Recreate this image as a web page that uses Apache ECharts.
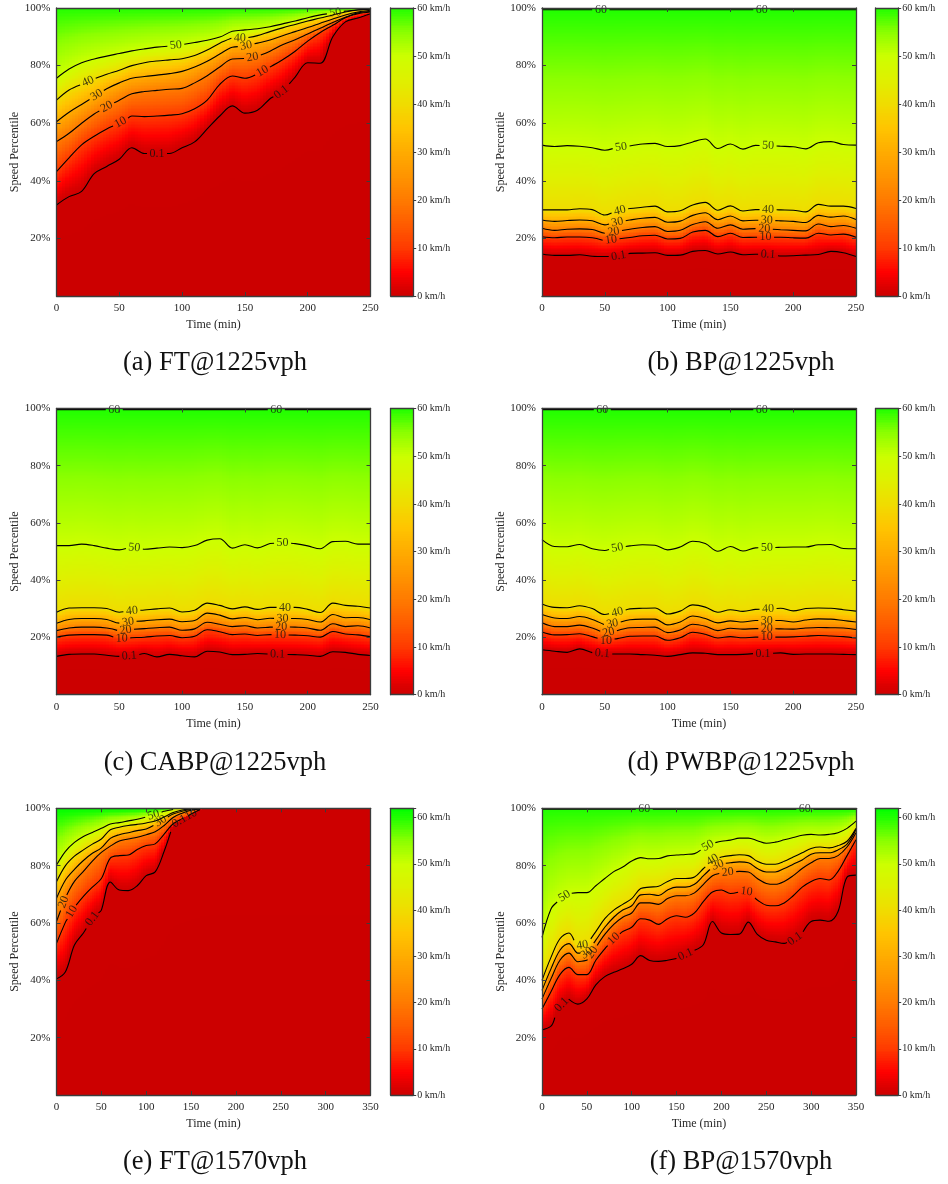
<!DOCTYPE html>
<html>
<head>
<meta charset="utf-8">
<script src="https://cdn.jsdelivr.net/npm/echarts@6/dist/echarts.min.js"></script>
<style>
  html, body { margin: 0; padding: 0; background: #ffffff; }
  #chart { width: 948px; height: 1184px; }
</style>
</head>
<body>
<div id="chart"></div>
<script>
// Speed-percentile contour maps: speed (km/h) over time and speed percentile.
// Each contour array gives the percentile at which the speed level is reached, sampled every 10 min.

const LEVELS = [0.1, 10, 20, 30, 40, 50, 60];
const LEVEL_TEXT = ['0.1', '10', '20', '30', '40', '50', '60'];

const time250 = [0,10,20,30,40,50,60,70,80,90,100,110,120,130,140,150,160,170,180,190,200,210,220,230,240,250];
const time350 = [0,10,20,30,40,50,60,70,80,90,100,110,120,130,140,150,160,170,180,190,200,210,220,230,240,250,260,270,280,290,300,310,320,330,340,350];

const yTicks = [0, 20, 40, 60, 80, 100];
const barTicks = [0, 10, 20, 30, 40, 50, 60];

// (a) FT@1225vph
const ft1225_c01 = [31.6,34.5,36.3,42.5,45,47.5,51.5,49.5,49.5,49.5,51.5,53.5,58,62.5,66,63.5,64.5,68.5,71,76,81,80.8,90,95.2,96.5,98];
const ft1225_c10 = [43.2,48,52.5,55.5,58,60,62.5,62.3,62.5,62.8,63.3,65,68,73.5,76.4,75.6,77,79.5,82,85,88.5,91.5,94,96.6,98,98.6];
const ft1225_c20 = [53.6,56.5,60,63.2,65.7,68,70.2,71,71.4,71.8,72.1,74,76.5,79.5,82.3,82.5,83.2,85,87.2,89,91,93,95,96.8,98.3,98.8];
const ft1225_c30 = [60.5,63.8,66.5,69.2,72,74,75.6,76.2,76.7,77.2,78,79.5,81.5,84,86.4,86.8,87.8,88.9,90.4,91.8,93.2,94.7,96.2,97.6,98.6,99.2];
const ft1225_c40 = [68,71.5,73.5,75.4,77,78.4,80,81,81.6,82,82.4,83.5,85.4,87.8,89.6,89.5,90.4,91.8,93.1,94.3,95.5,96.5,97.6,98.6,99.3,99.6];
const ft1225_c50 = [75.6,78.8,81,82.3,83.3,84.2,85.1,85.8,86.4,86.8,87.3,88,88.8,89.9,91.9,92.4,92.8,93.5,94.5,95.5,96.6,97.6,98.3,98.9,99.4,99.7];

// (b) BP@1225vph
const bp1225_c01 = [14.6,14.1,14.1,14.3,13.8,13.7,13.8,14.8,14.9,15,14.1,14.2,15.5,15.8,14.6,15.3,14.3,14.5,14.4,13.9,14,14.2,14.4,15.5,15,13.7];
const bp1225_c10 = [20.6,20.2,20.5,20.5,20.2,19.2,19.8,20.3,20.9,21.1,19.8,20,22.2,22.8,20.6,21.8,20.3,20.4,20.4,20.4,20.2,20.1,21.8,21.2,21.5,20.4];
const bp1225_c20 = [23.5,22.8,23.2,23.3,23.1,21.8,22.5,23.2,23.8,24.1,22.4,22.8,24.8,25.8,23.5,24.7,23.2,23.4,23.3,23,22.8,22.6,25,24.1,24.5,23.5];
const bp1225_c30 = [26.4,25.9,26.2,26.4,26.1,24.7,25.6,26.4,27,27.3,25.6,26,28,28.9,26.5,27.8,26.1,26.3,26.3,26.1,25.9,25.5,28,27.4,27.8,26.6];
const bp1225_c40 = [29.9,29.9,29.9,30.3,30,28.1,29.5,30.4,30.8,31.2,29.2,29.6,31.6,32.5,29.8,31.3,29.5,30,30,29.9,29.8,29.2,31.8,31.2,31.2,30.4];
const bp1225_c50 = [52.4,51.9,52.2,52,51.5,50.6,51.5,52.1,52.8,53,51.9,52.2,53.5,54.5,51.2,52.8,51,52.3,52.2,52,51.8,51.1,53.2,53.6,52.6,52.4];
const bp1225_c60 = [99.4,99.4,99.4,99.4,99.4,99.4,99.4,99.4,99.4,99.4,99.4,99.4,99.4,99.4,99.4,99.4,99.4,99.4,99.4,99.4,99.4,99.4,99.4,99.4,99.4,99.4];

// (c) CABP@1225vph
const cabp1225_c01 = [13.4,14.1,14.2,14.2,13.8,13.4,13.6,14.4,13.2,14.1,13.6,13.2,15.2,14.9,14,14.1,14.4,14.2,14.1,14,13.8,13.4,15,14.8,14.1,13.7];
const cabp1225_c10 = [20.1,20.8,21,21,20.8,19.6,19.9,20.1,20.5,20.7,19.9,20.4,22.7,22,21,21.2,20.7,21,20.9,20.8,20.6,20.1,22.1,21.2,20.9,20.3];
const cabp1225_c20 = [22.4,23.3,23.6,23.6,23.3,22.3,22.8,23.1,23.4,23.6,22.5,23,25.3,24.6,23.8,24.1,23.3,23.6,23.7,23.6,23.3,22.5,24.8,23.8,24.1,23.3];
const cabp1225_c30 = [25,26.3,26.6,26.6,26.3,25,25.6,25.8,26.2,26.4,25.5,25.9,28.5,27.8,26.5,27,26.2,26.7,26.6,26.6,26.3,25.4,28,26.9,27,26.2];
const cabp1225_c40 = [28.8,30.3,30.4,30.4,30.1,28.8,29.3,29.6,30,30.3,28.9,29.5,32,31.2,30,30.7,29.8,30.5,30.5,30.5,29.8,28.7,32,31.2,30.9,30.3];
const cabp1225_c50 = [52.1,52.1,52.6,52.1,51.2,50.6,51.5,50.8,51.2,51.6,51.4,52.1,54,54.5,51.2,52.4,51.3,52.8,53.2,52.8,52,51,53.5,53.6,52.6,52.6];
const cabp1225_c60 = [99.6,99.6,99.6,99.6,99.6,99.6,99.6,99.6,99.6,99.6,99.6,99.6,99.6,99.6,99.6,99.6,99.6,99.6,99.6,99.6,99.6,99.6,99.6,99.6,99.6,99.6];

// (d) PWBP@1225vph
const pwbp1225_c01 = [15.7,15.2,14.8,16,14.7,14.3,14.2,14.2,14,13.8,13.4,14,14.6,14.5,14,14,14.1,14.4,14.4,14.6,14.1,14.2,14.2,14.2,14.1,14];
const pwbp1225_c10 = [21.9,20.9,21,21.3,20.3,18.9,19.6,20.4,20.5,20.5,19,19.9,21.8,21.1,19.8,20.3,19.9,20.1,20.1,20.1,20.2,20.4,20.7,20.5,20.3,19.8];
const pwbp1225_c20 = [25.1,23.8,23.8,24.3,23.3,21.5,22.4,23.4,23.5,23.6,21.7,22.6,24.6,23.9,22.4,23.2,22.9,23.1,23.1,23,22.9,23.3,23.5,23.4,23.3,22.8];
const pwbp1225_c30 = [28,26.8,26.6,27.3,26.3,24.4,25.1,26.2,26.4,26.4,24.4,25.4,27.5,26.6,25.1,25.8,25.4,25.9,25.9,25.9,25.4,26.1,26.5,26.4,25.9,25.4];
const pwbp1225_c40 = [31.7,30.5,30.4,31.1,30.1,28,28.8,30,30.2,30.3,28.2,29.2,31.4,30.6,28.8,29.7,29.1,29.8,30,30.2,29.3,30.1,30.3,30.2,29.7,29.2];
const pwbp1225_c50 = [54.2,51.8,51.7,52.5,51,50.4,51.3,52,52.4,52.2,50.6,51.6,53.6,52.8,50.1,51.8,50.2,51.3,51.4,51.5,51.6,51.6,52.4,52.5,51.1,51];
const pwbp1225_c60 = [99.6,99.6,99.6,99.6,99.6,99.6,99.6,99.6,99.6,99.6,99.6,99.6,99.6,99.6,99.6,99.6,99.6,99.6,99.6,99.6,99.6,99.6,99.6,99.6,99.6,99.6];

// (e) FT@1570vph (contours leave the top of the map after ~160 min)
const ft1570_c01 = [40.5,43,52.3,56.5,61.5,64.5,74.3,71.5,71.3,73,76.5,77.8,85,94.2,96,98,99.6,null,null,null,null,null,null,null,null,null,null,null,null,null,null,null,null,null,null,null];
const ft1570_c10 = [52.9,60.3,65.5,69.3,72.5,75.5,82.6,83.5,83.7,85.6,87,87.6,91,94.6,96.4,97.8,99.7,null,null,null,null,null,null,null,null,null,null,null,null,null,null,null,null,null,null,null];
const ft1570_c20 = [60.5,69,74.5,78,81.6,84.6,86.8,88.6,89.3,89.9,90.8,91.8,94,96.8,98.3,99.3,99.8,null,null,null,null,null,null,null,null,null,null,null,null,null,null,null,null,null,null,null];
const ft1570_c30 = [68.6,75,78.7,81.8,84.3,86.2,89.5,90.8,91.5,92.2,92.8,94.3,96.3,98,99,99.6,99.9,null,null,null,null,null,null,null,null,null,null,null,null,null,null,null,null,null,null,null];
const ft1570_c40 = [74.4,80,83.3,85.5,87.5,89.3,92.5,93.4,94,94.4,94.9,95.6,97,98.5,99.4,99.8,null,null,null,null,null,null,null,null,null,null,null,null,null,null,null,null,null,null,null,null];
const ft1570_c50 = [80.2,85,88.1,90.2,91.6,93,94.5,95,95.6,96.2,97,97.8,99,99.6,null,null,null,null,null,null,null,null,null,null,null,null,null,null,null,null,null,null,null,null,null,null];

// (f) BP@1570vph
const bp1570_c01 = [22.7,24,31,33.5,31.7,33.5,38.4,41.3,42.8,44,45.6,48.6,46.9,46.6,47,47.6,49,50.5,52.5,60.5,56.5,56,56.1,60.3,56,54,53.4,52.9,54,56.5,60.5,61,60.6,64,76,76.7];
const bp1570_c10 = [30,36,42,44.5,42,42,47,51,54.5,57,58.5,61.5,61,59.5,61.5,62.5,62,63.5,67.5,70.8,71.5,70.3,70.8,71,68,66.2,66,67,69.5,72.5,74.5,75.5,75,78,83.5,89];
const bp1570_c20 = [33.5,40.5,47,49.5,46.5,47,51.5,56,59.5,62,63.5,67,67,66.5,68.5,69.5,69.5,70.5,73.5,76.5,77.5,77.8,78,77.8,75.5,73.8,73.5,74.5,76.5,79,81,82.5,82.5,83.5,86.5,91.5];
const bp1570_c30 = [36.5,44,50.5,52.8,49.5,49.5,54,58.5,62,64.5,66,69.8,70,69.6,71.5,72.5,72.5,73.5,76.5,79.5,80.7,81,81.3,81,79,77.8,77.8,79,80.5,82,84,84.5,84.5,85.5,87.5,92.5];
const bp1570_c40 = [40,48,54.5,56.5,52,52.5,57,61.5,64.5,66.5,68.5,72,72.5,72.8,74.5,75.5,75.5,76,79,82,83,83.5,83.8,83.5,81.5,80.5,80.5,81.5,83,84.5,86,86.5,86.2,87,88.5,93];
const bp1570_c50 = [55,64.9,68.4,70.3,70.6,70.6,73,75.5,77.9,79.5,81.6,82.8,82.4,82.5,83.4,83.7,83.9,84.2,86,87.8,88.5,88.9,89.6,89.6,88.7,87.8,88.2,89,89.8,90.6,90.9,90.7,90.9,91.5,93,95.5];
const bp1570_c60 = [99.7,99.7,99.7,99.7,99.7,99.7,99.7,99.7,99.7,99.7,99.7,99.7,99.7,99.7,99.7,99.7,99.7,99.7,99.7,99.7,99.7,99.7,99.7,99.7,99.7,99.7,99.7,99.7,99.7,99.7,99.7,99.7,99.7,99.7,99.7,99.7];

// Times (min) at which each contour carries its inline label, per level 0.1 .. 60
const ft1225_labelAt   = [[80, 179], [51, 164], [40, 156], [32, 151], [25, 146], [95, 222], []];
const bp1225_labelAt   = [[61, 180], [55, 178], [57, 177], [60, 179], [62, 180], [63, 180], [47, 175]];
const cabp1225_labelAt = [[58, 176], [52, 178], [55, 179], [57, 180], [60, 182], [62, 180], [46, 175]];
const pwbp1225_labelAt = [[48, 176], [51, 179], [53, 179], [56, 179], [60, 180], [60, 179], [48, 175]];
const ft1570_labelAt   = [[40, 137], [17, 150], [8], [116], [], [108], []];
const bp1570_labelAt   = [[22, 160, 282], [80, 228], [56, 207], [50, 196], [45, 190], [25, 185], [114, 293]];

const panels = [
  { caption: '(a) FT@1225vph',   times: time250, top: 60, scaleMax: 60, labelAt: ft1225_labelAt,
    contours: [ft1225_c01, ft1225_c10, ft1225_c20, ft1225_c30, ft1225_c40, ft1225_c50, null] },
  { caption: '(b) BP@1225vph',   times: time250, top: 61, scaleMax: 60, labelAt: bp1225_labelAt,
    contours: [bp1225_c01, bp1225_c10, bp1225_c20, bp1225_c30, bp1225_c40, bp1225_c50, bp1225_c60] },
  { caption: '(c) CABP@1225vph', times: time250, top: 61, scaleMax: 60, labelAt: cabp1225_labelAt,
    contours: [cabp1225_c01, cabp1225_c10, cabp1225_c20, cabp1225_c30, cabp1225_c40, cabp1225_c50, cabp1225_c60] },
  { caption: '(d) PWBP@1225vph', times: time250, top: 61, scaleMax: 60, labelAt: pwbp1225_labelAt,
    contours: [pwbp1225_c01, pwbp1225_c10, pwbp1225_c20, pwbp1225_c30, pwbp1225_c40, pwbp1225_c50, pwbp1225_c60] },
  { caption: '(e) FT@1570vph',   times: time350, top: 62, scaleMax: 62, labelAt: ft1570_labelAt,
    contours: [ft1570_c01, ft1570_c10, ft1570_c20, ft1570_c30, ft1570_c40, ft1570_c50, null] },
  { caption: '(f) BP@1570vph',   times: time350, top: 62, scaleMax: 62, labelAt: bp1570_labelAt,
    contours: [bp1570_c01, bp1570_c10, bp1570_c20, bp1570_c30, bp1570_c40, bp1570_c50, bp1570_c60] }
];

// ---- page geometry and styling ----
const layout = {
  plotLeft: [56.5, 542], plotW: 314,
  rowTop: [8, 408.5, 808.3], rowH: [288, 286.2, 286.7],
  barLeft: [390.7, 875.7], barW: 22.5,
  captionX: [215, 741], captionY: [363, 763, 1162]
};
const FONT = 'Liberation Serif';
const INK = '#262626';
const FRAME = '#3c3c3c';

// red -> orange -> yellow -> green speed palette
const paletteStops = [
  [0, '#cc0000'], [2, '#dc0000'], [5, '#ff0000'], [10, '#ff3a00'], [15, '#ff5c00'],
  [20, '#ff7a00'], [25, '#ff9400'], [30, '#ffab00'], [35, '#ffc400'], [40, '#f0dc00'],
  [45, '#dff000'], [50, '#ccff00'], [55, '#8cff00'], [60, '#22ff00'], [62, '#00ff00']
];
function hexRgb(h) { return [1, 3, 5].map(i => parseInt(h.substr(i, 2), 16)); }
function paletteAt(v) {
  for (let i = 0; i < paletteStops.length - 1; i++) {
    const [v0, c0] = paletteStops[i], [v1, c1] = paletteStops[i + 1];
    if (v <= v1) {
      const u = (v - v0) / (v1 - v0), a = hexRgb(c0), b = hexRgb(c1);
      return 'rgb(' + a.map((x, k) => Math.round(x + (b[k] - x) * u)).join(',') + ')';
    }
  }
  return paletteStops[paletteStops.length - 1][1];
}
const COLOR_MAX = 62;
const paletteColors = [];
for (let k = 0; k <= 124; k++) paletteColors.push(paletteAt(k * COLOR_MAX / 124));

// ---- helpers ----
function interpAt(times, arr, t, fill) {
  const n = times.length;
  const val = v => (v == null ? fill : v);
  if (t <= times[0]) return val(arr[0]);
  if (t >= times[n - 1]) return val(arr[n - 1]);
  let i = 0;
  while (i < n - 2 && times[i + 1] < t) i++;
  if (t === times[i]) return val(arr[i]);
  if (t === times[i + 1]) return val(arr[i + 1]);
  const a = val(arr[i]), b = val(arr[i + 1]);
  if (a == null || b == null) return null;
  const u = (t - times[i]) / (times[i + 1] - times[i]);
  return a + (b - a) * u;
}

// speed at (t, p), read between the contour levels of a panel
function speedAt(pn, t, p) {
  let prevH = 0, prevV = 0;
  for (let li = 0; li < LEVELS.length; li++) {
    const arr = pn.contours[li];
    if (!arr) continue;
    let h = interpAt(pn.times, arr, t, 100.5);
    if (h <= prevH) h = prevH + 0.01;
    if (p <= h) return prevV + (LEVELS[li] - prevV) * (p - prevH) / (h - prevH);
    prevH = h; prevV = LEVELS[li];
  }
  const hTop = Math.max(100, prevH + 0.01);
  if (p <= hTop) return prevV + (pn.top - prevV) * (p - prevH) / (hTop - prevH);
  return pn.top;
}

function contourData(times, arr, gaps) {
  const set = new Set(times);
  gaps.forEach(g => { set.add(g[0]); set.add(g[1]); });
  const ts = Array.from(set).sort((a, b) => a - b);
  const inGap = t => gaps.some(g => t > g[0] + 1e-6 && t < g[1] - 1e-6);
  const out = [];
  let last = null;
  for (const t of ts) {
    if (inGap(t)) continue;
    const v = interpAt(times, arr, t, null);
    if (v == null) {
      if (out.length && out[out.length - 1][1] !== '-') out.push([t, '-']);
      last = null;
      continue;
    }
    if (last != null && inGap((last + t) / 2)) out.push([(last + t) / 2, '-']);
    out.push([t, v]);
    last = t;
  }
  return out;
}

function textWidth(s, fs) {
  let w = 0;
  for (const ch of s) w += (ch === '.' ? 0.25 : 0.5) * fs;
  return w;
}

// one filled cell per data item [x, y, value, halfWidthX, halfHeightY], snapped to whole pixels
function cellRenderer(params, api) {
  const x = api.value(0), y = api.value(1), hx = api.value(3), hy = api.value(4);
  const a = api.coord([x - hx, y + hy]);
  const b = api.coord([x + hx, y - hy]);
  const x0 = Math.floor(a[0]), y0 = Math.floor(a[1]);
  const x1 = Math.ceil(b[0]), y1 = Math.ceil(b[1]);
  return {
    type: 'rect',
    shape: { x: x0, y: y0, width: x1 - x0, height: y1 - y0 },
    style: { fill: api.visual('color') },
    silent: true
  };
}

// ---- build option ----
const grid = [], xAxis = [], yAxis = [], series = [], graphic = [];
const fillSeries = [];
const LABEL_FS = 12;

function frameAxis(extra) {
  return Object.assign({
    type: 'value', z: 10,
    axisLine: { show: true, onZero: false, lineStyle: { color: FRAME, width: 1.3 } },
    axisTick: { show: false },
    axisLabel: { show: false },
    splitLine: { show: false }
  }, extra);
}

panels.forEach((pn, k) => {
  const col = k % 2, row = Math.floor(k / 2);
  const L = layout.plotLeft[col], T = layout.rowTop[row], W = layout.plotW, H = layout.rowH[row];
  const tMax = pn.times[pn.times.length - 1];

  // axes frame with ticks
  const gv = grid.length;
  grid.push({ left: L, top: T, width: W, height: H });
  const xb = xAxis.length;
  xAxis.push(frameAxis({
    gridIndex: gv, position: 'bottom', min: 0, max: tMax, interval: 50,
    axisTick: { show: true, inside: true, length: 4, lineStyle: { color: FRAME, width: 1 } },
    axisLabel: { show: true, color: INK, fontFamily: FONT, fontSize: 11, margin: 7 },
    name: 'Time (min)', nameLocation: 'middle', nameGap: 23,
    nameTextStyle: { color: INK, fontFamily: FONT, fontSize: 12 }
  }));
  xAxis.push(frameAxis({
    gridIndex: gv, position: 'top', min: 0, max: tMax, interval: 50,
    axisTick: { show: true, inside: true, length: 4, lineStyle: { color: FRAME, width: 1 } }
  }));
  const yl = yAxis.length;
  yAxis.push(frameAxis({
    gridIndex: gv, position: 'left', min: 0, max: 100, interval: 20,
    axisTick: { show: true, inside: true, length: 4, lineStyle: { color: FRAME, width: 1 } },
    axisLabel: { show: true, color: INK, fontFamily: FONT, fontSize: 11, margin: 6,
                 formatter: v => (yTicks.indexOf(v) > 0 ? v + '%' : '') },
    name: 'Speed Percentile', nameLocation: 'middle', nameGap: 35, nameRotate: 90,
    nameTextStyle: { color: INK, fontFamily: FONT, fontSize: 12 }
  }));
  yAxis.push(frameAxis({
    gridIndex: gv, position: 'right', min: 0, max: 100, interval: 20,
    axisTick: { show: true, inside: true, length: 4, lineStyle: { color: FRAME, width: 1 } }
  }));

  // filled speed map
  const nx = Math.round(tMax / 2.5), ny = 200;
  const hx = tMax / nx / 2, hy = 100 / ny / 2;
  const cells = [];
  for (let i = 0; i < nx; i++) {
    const t = (i + 0.5) * tMax / nx;
    for (let j = 0; j < ny; j++) {
      const p = (j + 0.5) * 100 / ny;
      cells.push([t, p, speedAt(pn, t, p), hx, hy]);
    }
  }
  fillSeries.push(series.length);
  series.push({
    type: 'custom', xAxisIndex: xb, yAxisIndex: yl, data: cells, renderItem: cellRenderer,
    clip: true, silent: true, z: 1, progressive: 0, dimensions: ['t', 'p', 'speed', 'hx', 'hy'],
    encode: { x: 0, y: 1 }
  });

  // contour lines and inline labels
  const pxX = W / tMax, pxY = H / 100;
  pn.contours.forEach((arr, li) => {
    if (!arr) return;
    const text = LEVEL_TEXT[li];
    const gaps = [], labels = [];
    (pn.labelAt[li] || []).forEach(tl => {
      const v = interpAt(pn.times, arr, tl, null);
      if (v == null) return;
      const tA = Math.max(0, tl - 3), tB = Math.min(tMax, tl + 3);
      const v0 = interpAt(pn.times, arr, tA, null);
      const v1 = interpAt(pn.times, arr, tB, null);
      const slope = (v0 != null && v1 != null) ? (v1 - v0) * pxY / ((tB - tA) * pxX) : 0;
      const ang = Math.atan(slope);
      const half = textWidth(text, LABEL_FS) / 2 + 2.5;
      const dt = half * Math.cos(ang) / pxX;
      gaps.push([tl - dt, tl + dt]);
      labels.push({ value: [tl, v], label: { formatter: text, rotate: ang * 180 / Math.PI } });
    });
    series.push({
      type: 'line', xAxisIndex: xb, yAxisIndex: yl, data: contourData(pn.times, arr, gaps),
      showSymbol: false, symbol: 'none', smooth: 0.35, connectNulls: false, silent: true, z: 5,
      lineStyle: { color: '#000000', width: 1.1 }
    });
    if (labels.length) {
      series.push({
        type: 'scatter', xAxisIndex: xb, yAxisIndex: yl, data: labels, symbolSize: 0, silent: true, z: 6,
        label: { show: true, position: 'inside', color: '#111111', fontFamily: FONT, fontSize: LABEL_FS }
      });
    }
  });

  // colour bar
  const BL = layout.barLeft[col], BW = layout.barW;
  const gbf = grid.length;
  grid.push({ left: BL, top: T, width: BW, height: H });
  const bx = xAxis.length;
  xAxis.push(frameAxis({ gridIndex: gbf, position: 'bottom', min: 0, max: 1 }));
  xAxis.push(frameAxis({ gridIndex: gbf, position: 'top', min: 0, max: 1 }));
  const by = yAxis.length;
  yAxis.push(frameAxis({ gridIndex: gbf, position: 'left', min: 0, max: pn.scaleMax }));
  yAxis.push(frameAxis({
    gridIndex: gbf, position: 'right', min: 0, max: pn.scaleMax, interval: 10,
    axisTick: { show: true, inside: false, length: 3, lineStyle: { color: FRAME, width: 1 } },
    axisLabel: { show: true, color: INK, fontFamily: FONT, fontSize: 10, margin: 4,
                 formatter: v => (barTicks.indexOf(v) >= 0 ? v + ' km/h' : '') }
  }));
  const nb = 160, hb = pn.scaleMax / nb / 2;
  const barCells = [];
  for (let j = 0; j < nb; j++) {
    const v = (j + 0.5) * pn.scaleMax / nb;
    barCells.push([0.5, v, v, 0.5, hb]);
  }
  fillSeries.push(series.length);
  series.push({
    type: 'custom', xAxisIndex: bx, yAxisIndex: by, data: barCells, renderItem: cellRenderer,
    clip: true, silent: true, z: 1, progressive: 0, dimensions: ['x', 'v', 'speed', 'hx', 'hy'],
    encode: { x: 0, y: 1 }
  });

  graphic.push({
    type: 'text', x: layout.captionX[col], y: layout.captionY[row], silent: true,
    style: { text: pn.caption, fill: '#111111', fontFamily: FONT, fontSize: 26.5,
             align: 'center', verticalAlign: 'middle', textAlign: 'center', textVerticalAlign: 'middle' }
  });
});

const chart = echarts.init(document.getElementById('chart'), null, { renderer: 'canvas' });
chart.setOption({
  animation: false,
  backgroundColor: '#ffffff',
  grid: grid,
  xAxis: xAxis,
  yAxis: yAxis,
  visualMap: [{
    type: 'continuous', show: false, min: 0, max: COLOR_MAX, dimension: 2,
    seriesIndex: fillSeries, inRange: { color: paletteColors }
  }],
  graphic: graphic,
  series: series
});
</script>
</body>
</html>
